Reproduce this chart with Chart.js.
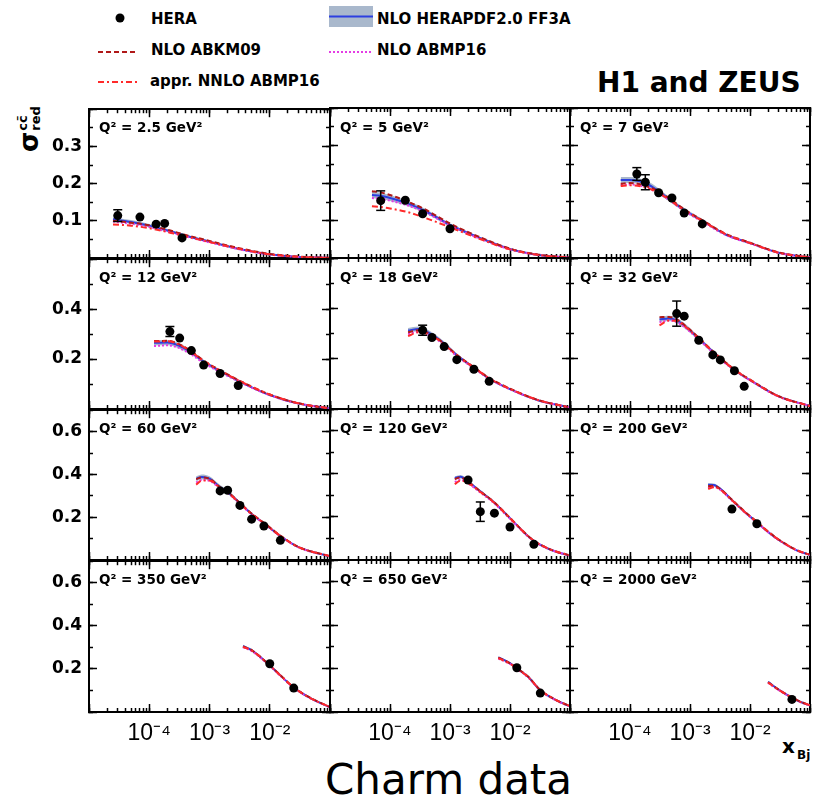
<!DOCTYPE html>
<html><head><meta charset="utf-8">
<script src="https://cdn.jsdelivr.net/npm/chart.js@4.4.1/dist/chart.umd.min.js"></script>
<style>
html,body{margin:0;padding:0;background:#fff;}
body{width:813px;height:805px;position:relative;overflow:hidden;font-family:"DejaVu Sans",sans-serif;}
canvas{position:absolute;}
.t{position:absolute;white-space:nowrap;line-height:1;color:#000;}
.b{font-weight:bold;}
</style></head><body>
<svg style="position:absolute;left:0;top:0" width="813" height="100">
 <circle cx="120" cy="18" r="4.5" fill="#000"/>
 <line x1="98" y1="52" x2="138" y2="52" stroke="#b01818" stroke-width="2" stroke-dasharray="5 3"/>
 <line x1="98" y1="82" x2="138" y2="82" stroke="#ff2a2a" stroke-width="2" stroke-dasharray="6 3 2 3"/>
 <rect x="329" y="6" width="44" height="21" fill="#a9b8cc"/>
 <line x1="329" y1="16.5" x2="373" y2="16.5" stroke="#2c3fe0" stroke-width="2"/>
 <line x1="329" y1="52" x2="373" y2="52" stroke="#e43ce4" stroke-width="2" stroke-dasharray="2 2"/>
</svg>
<div class="t b" style="left:151px;top:11.5px;font-size:15px">HERA</div>
<div class="t b" style="left:151px;top:42.5px;font-size:15px">NLO ABKM09</div>
<div class="t b" style="left:150px;top:74px;font-size:15px">appr. NNLO ABMP16</div>
<div class="t b" style="left:377px;top:11.5px;font-size:15px">NLO HERAPDF2.0 FF3A</div>
<div class="t b" style="left:377px;top:42.5px;font-size:15px">NLO ABMP16</div>
<div class="t b" style="left:597px;top:68.5px;font-size:28px">H1 and ZEUS</div>
<div class="t b" style="left:16px;top:152px;transform:rotate(-90deg);transform-origin:0 0;font-size:26px">σ<span style="display:inline-block;vertical-align:top;font-size:13px;line-height:13px;margin-left:1px"><span style="display:block">cc̄</span><span style="display:block">red</span></span></div>
<div class="t b" style="left:782px;top:736px;font-size:20px">x</div>
<div class="t b" style="left:797px;top:749px;font-size:12px">Bj</div>
<div class="t" style="left:325px;top:759px;font-size:42px">Charm data</div>
<script>
// ---------------- data ----------------
const panelQ2 = ['2.5','5','7','12','18','32','60','120','200','350','650','2000'];

const heraX = [
  [3e-5, 7e-5, 1.3e-4, 1.8e-4, 3.5e-4],
  [7e-5, 1.8e-4, 3.5e-4, 1e-3],
  [1.3e-4, 1.8e-4, 3e-4, 5e-4, 8e-4, 1.6e-3],
  [2.2e-4, 3.2e-4, 5e-4, 8e-4, 1.5e-3, 3e-3],
  [3.5e-4, 5e-4, 8e-4, 1.3e-3, 2.5e-3, 4.5e-3],
  [6e-4, 8e-4, 1.4e-3, 2.4e-3, 3.2e-3, 5.5e-3, 8e-3],
  [1.5e-3, 2e-3, 3.2e-3, 5e-3, 8e-3, 1.5e-2],
  [2e-3, 3.2e-3, 5.5e-3, 1e-2, 2.5e-2],
  [5e-3, 1.3e-2],
  [1e-2, 2.5e-2],
  [1.3e-2, 3.2e-2],
  [5e-2]
];
const heraY = [
  [0.114, 0.110, 0.091, 0.093, 0.054],
  [0.153, 0.154, 0.118, 0.078],
  [0.224, 0.202, 0.174, 0.160, 0.120, 0.091],
  [0.310, 0.284, 0.234, 0.176, 0.142, 0.094],
  [0.313, 0.284, 0.248, 0.196, 0.158, 0.110],
  [0.379, 0.369, 0.273, 0.215, 0.195, 0.152, 0.090],
  [0.323, 0.326, 0.255, 0.191, 0.159, 0.092],
  [0.371, 0.224, 0.217, 0.153, 0.073],
  [0.236, 0.168],
  [0.224, 0.111],
  [0.204, 0.087],
  [0.058]
];
const heraErr = [
  [0.016, 0.008, 0.006, 0.006, 0.005],
  [0.026, 0.010, 0.008, 0.006],
  [0.017, 0.020, 0.010, 0.008, 0.006, 0.006],
  [0.020, 0.012, 0.010, 0.008, 0.007, 0.006],
  [0.020, 0.010, 0.010, 0.008, 0.007, 0.006],
  [0.050, 0.015, 0.010, 0.008, 0.008, 0.007, 0.006],
  [0.012, 0.012, 0.010, 0.008, 0.008, 0.006],
  [0.012, 0.045, 0.012, 0.010, 0.008],
  [0.012, 0.010],
  [0.012, 0.008],
  [0.012, 0.008],
  [0.008]
];

const theoryX = [
  [2.5e-5, 5e-5, 1e-4, 2e-4, 4e-4, 1e-3, 3e-3, 1e-2, 3e-2, 0.1],
  [5e-5, 7e-5, 1e-4, 2e-4, 4e-4, 1e-3, 3e-3, 1e-2, 3e-2, 0.1],
  [7e-5, 1e-4, 2e-4, 4e-4, 8e-4, 1.6e-3, 4e-3, 1e-2, 3e-2, 0.1],
  [1.2e-4, 2e-4, 3e-4, 5e-4, 8e-4, 1.5e-3, 3e-3, 1e-2, 3e-2, 0.1],
  [2e-4, 3e-4, 5e-4, 8e-4, 1.3e-3, 2.5e-3, 4.5e-3, 1e-2, 3e-2, 0.1],
  [3.1e-4, 4.5e-4, 6e-4, 8e-4, 1.4e-3, 2.4e-3, 5.5e-3, 1e-2, 3e-2, 0.1],
  [6e-4, 7.5e-4, 1e-3, 1.5e-3, 2e-3, 3.2e-3, 5e-3, 8e-3, 1.5e-2, 3e-2, 0.1],
  [1.2e-3, 1.5e-3, 2e-3, 3.2e-3, 5.4e-3, 1e-2, 2.4e-2, 5e-2, 0.1],
  [2e-3, 2.5e-3, 3.2e-3, 4.8e-3, 8e-3, 1.26e-2, 2e-2, 3.2e-2, 6e-2, 0.1],
  [3.6e-3, 5e-3, 1e-2, 1.5e-2, 2.5e-2, 5e-2, 0.1],
  [6.4e-3, 1e-2, 1.26e-2, 2e-2, 3.2e-2, 6e-2, 0.1],
  [2e-2, 3e-2, 4.8e-2, 7e-2, 0.1]
];
const herapdf = [
  [0.104, 0.097, 0.087, 0.074, 0.060, 0.044, 0.025, 0.010, 0.003, 0.0003],
  [0.168, 0.166, 0.160, 0.145, 0.124, 0.088, 0.055, 0.024, 0.008, 0.001],
  [0.208, 0.208, 0.196, 0.163, 0.128, 0.100, 0.062, 0.040, 0.014, 0.001],
  [0.265, 0.266, 0.255, 0.226, 0.190, 0.152, 0.113, 0.056, 0.022, 0.002],
  [0.312, 0.318, 0.296, 0.260, 0.214, 0.164, 0.121, 0.079, 0.034, 0.006],
  [0.356, 0.360, 0.352, 0.332, 0.280, 0.228, 0.155, 0.115, 0.050, 0.012],
  [0.380, 0.388, 0.380, 0.340, 0.318, 0.265, 0.215, 0.172, 0.112, 0.060, 0.017],
  [0.380, 0.386, 0.364, 0.318, 0.268, 0.194, 0.092, 0.045, 0.020],
  [0.349, 0.348, 0.330, 0.283, 0.225, 0.178, 0.130, 0.088, 0.045, 0.023],
  [0.306, 0.287, 0.216, 0.170, 0.113, 0.061, 0.022],
  [0.252, 0.225, 0.204, 0.162, 0.100, 0.053, 0.026],
  [0.139, 0.103, 0.069, 0.046, 0.030]
];
const herapdfRelUnc = [0.05, 0.05, 0.04, 0.04, 0.03, 0.03, 0.03, 0.02, 0.02, 0.02, 0.02, 0.02];
const abkm09 = [
  [0.100, 0.095, 0.088, 0.076, 0.062, 0.046, 0.027, 0.011, 0.004, 0.0005],
  [0.178, 0.175, 0.168, 0.150, 0.128, 0.092, 0.057, 0.025, 0.009, 0.001],
  [0.198, 0.200, 0.190, 0.165, 0.130, 0.101, 0.064, 0.041, 0.015, 0.001],
  [0.272, 0.273, 0.262, 0.231, 0.194, 0.155, 0.116, 0.058, 0.023, 0.002],
  [0.305, 0.313, 0.294, 0.259, 0.215, 0.166, 0.123, 0.081, 0.035, 0.006],
  [0.365, 0.366, 0.356, 0.335, 0.283, 0.230, 0.157, 0.117, 0.051, 0.012],
  [0.378, 0.386, 0.379, 0.340, 0.318, 0.266, 0.217, 0.174, 0.114, 0.061, 0.018],
  [0.375, 0.383, 0.363, 0.318, 0.269, 0.195, 0.093, 0.046, 0.021],
  [0.342, 0.344, 0.329, 0.284, 0.227, 0.180, 0.132, 0.090, 0.046, 0.024],
  [0.304, 0.287, 0.217, 0.171, 0.114, 0.062, 0.023],
  [0.250, 0.224, 0.204, 0.163, 0.101, 0.054, 0.027],
  [0.137, 0.103, 0.070, 0.047, 0.031]
];
const abmp16 = [
  [0.098, 0.092, 0.083, 0.071, 0.058, 0.042, 0.024, 0.009, 0.003, 0.0003],
  [0.160, 0.158, 0.153, 0.140, 0.120, 0.087, 0.053, 0.023, 0.008, 0.001],
  [0.195, 0.196, 0.186, 0.160, 0.126, 0.097, 0.061, 0.039, 0.014, 0.001],
  [0.252, 0.255, 0.246, 0.218, 0.184, 0.148, 0.111, 0.055, 0.022, 0.002],
  [0.298, 0.306, 0.288, 0.254, 0.210, 0.162, 0.120, 0.078, 0.034, 0.006],
  [0.345, 0.352, 0.345, 0.326, 0.276, 0.225, 0.153, 0.114, 0.049, 0.012],
  [0.362, 0.374, 0.370, 0.334, 0.313, 0.262, 0.213, 0.170, 0.111, 0.059, 0.017],
  [0.362, 0.372, 0.355, 0.313, 0.264, 0.191, 0.091, 0.045, 0.020],
  [0.335, 0.339, 0.325, 0.280, 0.223, 0.177, 0.129, 0.087, 0.045, 0.023],
  [0.300, 0.283, 0.214, 0.168, 0.112, 0.060, 0.022],
  [0.246, 0.221, 0.201, 0.160, 0.099, 0.052, 0.026],
  [0.134, 0.101, 0.068, 0.045, 0.030]
];
const nnloAbmp16 = [
  [0.090, 0.087, 0.080, 0.070, 0.058, 0.043, 0.025, 0.010, 0.003, 0.0003],
  [0.138, 0.136, 0.132, 0.122, 0.106, 0.082, 0.052, 0.023, 0.008, 0.001],
  [0.192, 0.194, 0.186, 0.161, 0.127, 0.099, 0.063, 0.040, 0.014, 0.001],
  [0.270, 0.271, 0.260, 0.229, 0.192, 0.154, 0.115, 0.058, 0.023, 0.002],
  [0.290, 0.305, 0.291, 0.257, 0.213, 0.165, 0.122, 0.080, 0.035, 0.006],
  [0.332, 0.352, 0.350, 0.331, 0.280, 0.228, 0.156, 0.116, 0.050, 0.012],
  [0.352, 0.372, 0.372, 0.337, 0.316, 0.264, 0.215, 0.172, 0.113, 0.060, 0.018],
  [0.352, 0.368, 0.356, 0.316, 0.267, 0.194, 0.093, 0.046, 0.021],
  [0.330, 0.337, 0.326, 0.282, 0.225, 0.179, 0.131, 0.089, 0.046, 0.024],
  [0.302, 0.286, 0.216, 0.170, 0.114, 0.061, 0.023],
  [0.248, 0.223, 0.203, 0.162, 0.101, 0.054, 0.027],
  [0.136, 0.102, 0.069, 0.046, 0.031]
];

// axes
const xMin = 1e-5, xMax = 0.1;
const xLabelValues = [1e-4, 1e-3, 1e-2];
const xLabelTexts = ['10⁻⁴', '10⁻³', '10⁻²'];
const yMaxByRow = [0.4, 0.6, 0.7, 0.7];
const yMinorStepByRow = [0.05, 0.1, 0.1, 0.1];
const yMajorStepByRow = [0.1, 0.2, 0.2, 0.2];
const yLabelsByRow = [['0.1','0.2','0.3'], ['0.2','0.4'], ['0.2','0.4','0.6'], ['0.2','0.4','0.6']];

// ---------------- layout ----------------
const colEdges = [89, 330, 570, 810];
const rowEdges = [108, 258, 409, 560, 712];
const PADL = 70, PADT = 20, PADR = 20, PADB = 50;

const C_BLUE = '#2c3fe0', C_BAND = '#a9b8cc', C_ABKM = '#b01818', C_ABMP = '#e43ce4', C_NNLO = '#ff2a2a';

function logTicks(majorOnly) {
  const out = [];
  for (let e = -6; e <= 0; e++) {
    for (let m = 1; m <= 9; m++) {
      if (majorOnly && m !== 1) continue;
      const v = Number((m * Math.pow(10, e)).toPrecision(2));
      if (v >= xMin * 0.9999 && v <= xMax * 1.0001) out.push({value: v, major: m === 1});
    }
  }
  return out;
}
function linTicks(maxV, step) {
  const out = [];
  const n = Math.round(maxV / step);
  for (let k = 0; k <= n; k++) out.push({value: Number((k * step).toFixed(4))});
  return out;
}
function grid(len) {
  return {display: true, drawOnChartArea: false, drawTicks: true, tickLength: -len, tickColor: '#000', tickWidth: 1.5};
}
const BORDER = {display: true, color: '#000', width: 2};
const NOBORDER = {display: false};

function pts(xs, ys) { return xs.map((x, k) => ({x: x, y: ys[k]})); }

for (let i = 0; i < 12; i++) {
  const r = Math.floor(i / 3), c = i % 3;
  const w = colEdges[c + 1] - colEdges[c];
  const h = rowEdges[r + 1] - rowEdges[r];
  const cv = document.createElement('canvas');
  cv.width = w + PADL + PADR;
  cv.height = h + PADT + PADB;
  cv.style.left = (colEdges[c] - PADL) + 'px';
  cv.style.top = (rowEdges[r] - PADT) + 'px';
  cv.style.width = cv.width + 'px';
  cv.style.height = cv.height + 'px';
  document.body.appendChild(cv);

  const lab = document.createElement('div');
  lab.className = 't b';
  lab.style.left = (colEdges[c] + 10) + 'px';
  lab.style.top = (rowEdges[r] + 12.7) + 'px';
  lab.style.fontSize = '13.5px';
  lab.textContent = 'Q² = ' + panelQ2[i] + ' GeV²';
  document.body.appendChild(lab);

  const yMax = yMaxByRow[r];
  const yMinor = yMinorStepByRow[r], yMajor = yMajorStepByRow[r];
  const yLabels = yLabelsByRow[r];
  const isBottom = r === 3, isLeft = c === 0;

  const tx = theoryX[i];
  const bandLo = tx.map((x, k) => ({x: x, y: herapdf[i][k] * (1 - herapdfRelUnc[i])}));
  const bandHi = tx.map((x, k) => ({x: x, y: herapdf[i][k] * (1 + herapdfRelUnc[i])}));
  const errData = [];
  const capR = [];
  heraX[i].forEach((x, k) => {
    const big = heraErr[i][k] / yMax * h > 4.5;
    errData.push({x: x, y: heraY[i][k] - heraErr[i][k]});
    errData.push({x: x, y: heraY[i][k] + heraErr[i][k]});
    errData.push({x: x, y: null});
    capR.push(big ? 4.5 : 0, big ? 4.5 : 0, 0);
  });

  const lineDs = (label, ys, color, dash, order) => ({
    type: 'line', label: label, data: pts(tx, ys), borderColor: color, borderWidth: 2,
    borderDash: dash, pointRadius: 0, fill: false, cubicInterpolationMode: 'monotone', order: order
  });

  const datasets = [
    {type: 'line', label: 'bandLo', data: bandLo, borderWidth: 0, borderColor: 'rgba(0,0,0,0)', pointRadius: 0, fill: false, cubicInterpolationMode: 'monotone', order: 8},
    {type: 'line', label: 'bandHi', data: bandHi, borderWidth: 0, borderColor: 'rgba(0,0,0,0)', pointRadius: 0, fill: '-1', backgroundColor: C_BAND, cubicInterpolationMode: 'monotone', order: 7},
    lineDs('NLO HERAPDF2.0 FF3A', herapdf[i], C_BLUE, [], 6),
    lineDs('NLO ABMP16', abmp16[i], C_ABMP, [2, 2], 5),
    lineDs('NLO ABKM09', abkm09[i], C_ABKM, [5, 3], 4),
    lineDs('appr. NNLO ABMP16', nnloAbmp16[i], C_NNLO, [6, 3, 2, 3], 3),
    {type: 'line', label: 'err', data: errData, borderColor: '#000', borderWidth: 1.5, spanGaps: false,
     pointStyle: 'line', pointRadius: capR, pointBorderColor: '#000', pointBorderWidth: 1.5, fill: false, order: 2},
    {type: 'scatter', label: 'HERA', data: pts(heraX[i], heraY[i]), pointRadius: 4.5, pointBackgroundColor: '#000',
     pointBorderColor: '#000', pointBorderWidth: 0, order: 1}
  ];

  new Chart(cv, {
    type: 'scatter',
    data: {datasets: datasets},
    options: {
      responsive: false, animation: false, devicePixelRatio: 1, events: [],
      layout: {padding: {left: 0, top: PADT, right: PADR, bottom: 0}},
      plugins: {legend: {display: false}, tooltip: {enabled: false}},
      scales: {
        x: {type: 'logarithmic', position: 'bottom', min: xMin, max: xMax, weight: 1,
            afterBuildTicks: s => { s.ticks = logTicks(false); },
            ticks: {display: isBottom, autoSkip: false, maxRotation: 0, minRotation: 0, padding: 12, color: '#000',
                    font: {family: 'Liberation Sans', size: 23},
                    callback: (v) => { const k = xLabelValues.findIndex(t => Math.abs(Math.log10(v) - Math.log10(t)) < 1e-6); return k >= 0 ? xLabelTexts[k] : ''; }},
            grid: grid(4), border: BORDER,
            afterFit: s => { s.height = PADB; }},
        xM: {type: 'logarithmic', position: 'bottom', min: xMin, max: xMax, weight: 0,
            afterBuildTicks: s => { s.ticks = logTicks(true); },
            ticks: {display: false, autoSkip: false},
            grid: grid(8), border: NOBORDER,
            afterFit: s => { s.height = 0; }},
        xT: {type: 'logarithmic', position: 'top', min: xMin, max: xMax, weight: 0,
            afterBuildTicks: s => { s.ticks = logTicks(false); },
            ticks: {display: false, autoSkip: false},
            grid: grid(4), border: BORDER,
            afterFit: s => { s.height = 0; }},
        xTM: {type: 'logarithmic', position: 'top', min: xMin, max: xMax, weight: 1,
            afterBuildTicks: s => { s.ticks = logTicks(true); },
            ticks: {display: false, autoSkip: false},
            grid: grid(8), border: NOBORDER,
            afterFit: s => { s.height = 0; }},
        y: {type: 'linear', position: 'left', min: 0, max: yMax, weight: 1,
            afterBuildTicks: s => { s.ticks = linTicks(yMax, yMinor); },
            ticks: {display: isLeft, autoSkip: false, padding: 11, color: '#000',
                    font: {family: 'DejaVu Sans', size: 17, weight: 'bold'},
                    callback: (v) => { const l = yLabels.find(t => Math.abs(parseFloat(t) - v) < 1e-6); return l || ''; }},
            grid: grid(4), border: BORDER,
            afterFit: s => { s.width = PADL; }},
        yM: {type: 'linear', position: 'left', min: 0, max: yMax, weight: 0,
            afterBuildTicks: s => { s.ticks = linTicks(yMax, yMajor); },
            ticks: {display: false, autoSkip: false},
            grid: grid(8), border: NOBORDER,
            afterFit: s => { s.width = 0; }},
        yR: {type: 'linear', position: 'right', min: 0, max: yMax, weight: 0,
            afterBuildTicks: s => { s.ticks = linTicks(yMax, yMinor); },
            ticks: {display: false, autoSkip: false},
            grid: grid(4), border: BORDER,
            afterFit: s => { s.width = 0; }},
        yRM: {type: 'linear', position: 'right', min: 0, max: yMax, weight: 1,
            afterBuildTicks: s => { s.ticks = linTicks(yMax, yMajor); },
            ticks: {display: false, autoSkip: false},
            grid: grid(8), border: NOBORDER,
            afterFit: s => { s.width = 0; }}
      }
    }
  });
}
</script>
</body></html>
